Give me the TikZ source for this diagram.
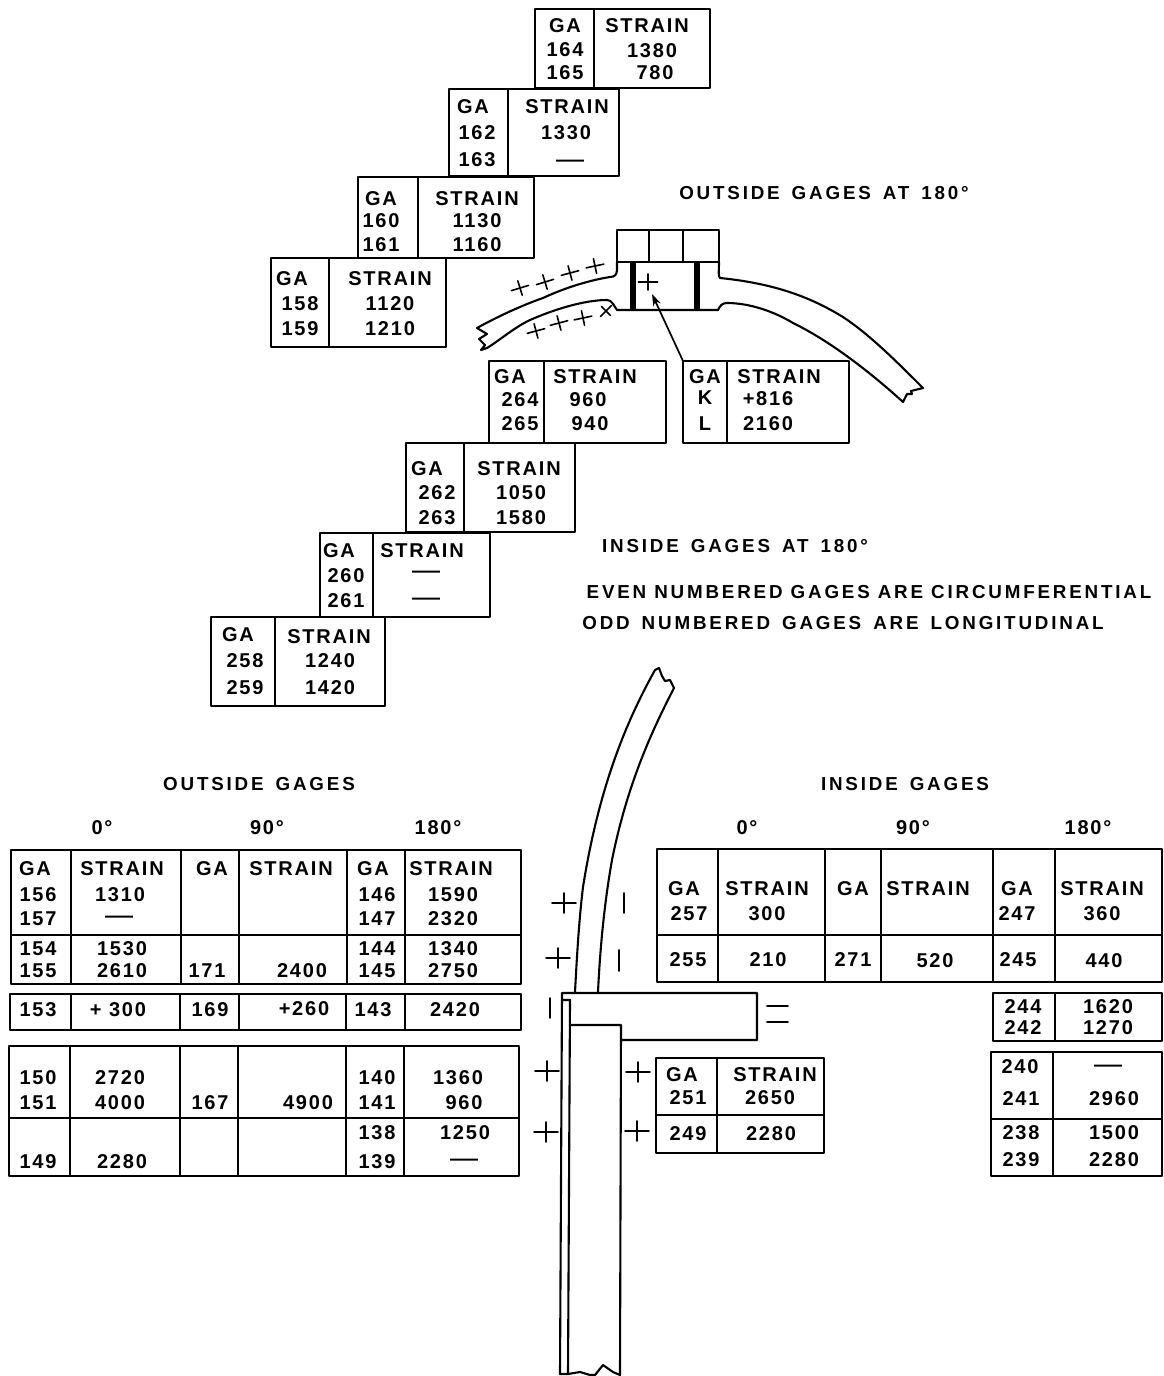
\documentclass[tikz,border=0pt]{standalone}
\usepackage{fontspec}
\usepackage{graphicx}
\setmainfont[LetterSpace=9,BoldFont={Liberation Sans Bold}]{Liberation Sans}
\newfontfamily\hdfont[LetterSpace=15,BoldFont={Liberation Sans Bold}]{Liberation Sans}
\usetikzlibrary{arrows.meta}
\newcounter{tn}
\newcommand\hdwide{\spaceskip 6pt\relax}
\newcommand\hdmid{\spaceskip 4pt\relax}
\tikzset{
  rule/.style={line width=0.85pt,black,line cap=round,line join=round},
  shell/.style={line width=1.05pt,black,line cap=round,line join=round},
  gagemk/.style={line width=0.8pt,black,line cap=round},
  lbl/.style={inner sep=0pt,font=\fontsize{10}{12}\selectfont\bfseries,text=black},
  hdr/.style={inner sep=0pt,font=\fontsize{9.4}{12}\hdfont\bfseries\hdwide,text=black}
}
\newcommand\tx[3]{\stepcounter{tn}\node[lbl] (t\arabic{tn}) at (#1,#2) {#3};}
\newcommand\ds[2]{\stepcounter{tn}\node[lbl] (t\arabic{tn}) at (#1,#2+3) {\scalebox{1.4}[1]{—}};}
\newcommand\hd[3]{\stepcounter{tn}\node[hdr] (t\arabic{tn}) at (#1,#2) {#3};}
\newcommand\bx[4]{\draw[rule] (#1,#2) rectangle (#3,#4);}
\newcommand\vl[3]{\draw[rule] (#1,#2) -- (#1,#3);}
\newcommand\hl[3]{\draw[rule] (#1,#3) -- (#2,#3);}
\newcommand\pl[4][9]{\draw[gagemk,shift={(#2,#3)},rotate=#4] (-#1*1.2,0) -- (#1*1.2,0) (0,-#1) -- (0,#1);}
\begin{document}
\begin{tikzpicture}[x=0.5pt,y=-0.5pt]
\useasboundingbox (0,0) rectangle (1163,1376);
\fill[white] (0,0) rectangle (1163,1376);
% stepped tables, outside
\bx{535}{9}{710}{88}\vl{594}{9}{88}
\tx{565}{26}{GA}\tx{647}{26}{STRAIN}\tx{565}{50}{164}\tx{565}{73}{165}\tx{652}{51}{1380}\tx{655}{73}{780}
\bx{449}{89}{619}{176}\vl{508}{89}{176}
\tx{473}{107}{GA}\tx{567}{107}{STRAIN}\tx{477}{133}{162}\tx{477}{160}{163}\tx{566}{133}{1330}\ds{570}{160}
\bx{358}{177}{534}{258}\vl{418}{177}{258}
\tx{381}{199}{GA}\tx{477}{199}{STRAIN}\tx{381}{221}{160}\tx{381}{245}{161}\tx{477}{221}{1130}\tx{477}{245}{1160}
\bx{271}{258}{446}{347}\vl{329}{258}{347}
\tx{292}{279}{GA}\tx{390}{279}{STRAIN}\tx{300}{304}{158}\tx{300}{329}{159}\tx{390}{304}{1120}\tx{390}{329}{1210}
% stepped tables, inside
\bx{489}{361}{666}{443}\vl{544}{361}{443}
\tx{510}{377}{GA}\tx{595}{377}{STRAIN}\tx{520}{400}{264}\tx{520}{424}{265}\tx{588}{400}{960}\tx{590}{424}{940}
\bx{683}{361}{849}{443}\vl{727}{361}{443}
\tx{705}{377}{GA}\tx{779}{377}{STRAIN}\tx{705}{398}{K}\tx{705}{424}{L}\tx{768}{399}{+816}\tx{768}{424}{2160}
\bx{406}{443}{575}{532}\vl{464}{443}{532}
\tx{427}{469}{GA}\tx{519}{469}{STRAIN}\tx{437}{493}{262}\tx{437}{518}{263}\tx{521}{493}{1050}\tx{521}{518}{1580}
\bx{320}{533}{490}{617}\vl{373}{533}{617}
\tx{339}{551}{GA}\tx{422}{551}{STRAIN}\tx{346}{576}{260}\tx{346}{601}{261}\ds{426}{571}\ds{426}{598}
\bx{211}{617}{385}{706}\vl{275}{617}{706}
\tx{238}{635}{GA}\tx{329}{637}{STRAIN}\tx{245}{661}{258}\tx{245}{688}{259}\tx{330}{661}{1240}\tx{330}{688}{1420}
% top figure
\draw[shell] (617,230) rectangle (719,262);
\draw[shell] (649,230) -- (649,262) (683,230) -- (683,262);
\draw[shell] (617,262) -- (617,270) .. controls (617,275) and (614,277) .. (610,277)
  .. controls (585,281) and (560,290) .. (543,298) .. controls (520,306) and (495,318) .. (477,328)
  -- (487,334) -- (479,339) -- (485,345) -- (481,350) -- (487,348)
  .. controls (500,340) and (515,327) .. (530,320) .. controls (555,309) and (585,300) .. (607,300)
  .. controls (612,300) and (614,306) .. (617,310) -- (718,310)
  .. controls (720,306) and (722,303) .. (727,303)
  .. controls (750,303) and (775,312) .. (793,323) .. controls (830,341) and (870,372) .. (903,402)
  -- (907,394) -- (912,394) -- (911,391) -- (923,388)
  .. controls (895,360) and (870,335) .. (843,317) .. controls (815,300) and (780,284) .. (720,278)
  .. controls (718,276) and (719,272) .. (719,262);
\draw[line width=3pt] (633,262) -- (633,310) (697,262) -- (697,310);
\pl[8]{648}{282}{0}
\pl[7.5]{520}{288}{17}\pl[7.5]{545}{282}{17}\pl[7.5]{570}{273}{15}\pl[7.5]{595}{266}{12}
\pl[7.5]{536}{331}{15}\pl[7.5]{559}{323}{15}\pl[7.5]{583}{318}{12}\pl[6.5]{606}{311}{45}
\coordinate (klcorner) at (683,361);
\coordinate (klgage) at (652,294);
\draw[rule,-{Stealth[length=6pt,width=4pt]}] (klcorner) -- (klgage);
% headings
\hd{824}{193}{OUTSIDE GAGES AT 180°}
\hd{735}{546}{INSIDE GAGES AT 180°}
\hd{869}{592}{\hdmid EVEN NUMBERED GAGES ARE CIRCUMFERENTIAL}
\hd{843}{623}{ODD NUMBERED GAGES ARE LONGITUDINAL}
\hd{259}{784}{OUTSIDE GAGES}\hd{905}{784}{INSIDE GAGES}
\tx{102}{828}{0°}\tx{267}{828}{90°}\tx{438}{828}{180°}
\tx{747}{828}{0°}\tx{913}{828}{90°}\tx{1088}{828}{180°}
% left table
\bx{11}{850}{521}{984}\hl{11}{521}{935}
\foreach \xx in {71,181,239,347,405}{\vl{\xx}{850}{984}}
\tx{35}{869}{GA}\tx{122}{869}{STRAIN}\tx{212}{869}{GA}\tx{291}{869}{STRAIN}\tx{373}{869}{GA}\tx{451}{869}{STRAIN}
\tx{38}{895}{156}\tx{120}{895}{1310}\tx{377}{895}{146}\tx{453}{895}{1590}
\tx{38}{919}{157}\ds{119}{916}\tx{377}{919}{147}\tx{453}{919}{2320}
\tx{38}{949}{154}\tx{122}{949}{1530}\tx{377}{949}{144}\tx{453}{949}{1340}
\tx{38}{971}{155}\tx{122}{971}{2610}\tx{207}{971}{171}\tx{302}{971}{2400}\tx{377}{971}{145}\tx{453}{971}{2750}
\bx{10}{994}{521}{1030}
\foreach \xx in {71,180,239,346,405}{\vl{\xx}{994}{1030}}
\tx{38}{1010}{153}\tx{118}{1010}{+ 300}\tx{210}{1010}{169}\tx{304}{1009}{+260}\tx{373}{1010}{143}\tx{455}{1010}{2420}
\bx{9}{1046}{519}{1176}\hl{9}{519}{1118}
\foreach \xx in {70,180,238,346,404}{\vl{\xx}{1046}{1176}}
\tx{38}{1078}{150}\tx{120}{1078}{2720}\tx{377}{1078}{140}\tx{458}{1078}{1360}
\tx{38}{1103}{151}\tx{120}{1103}{4000}\tx{210}{1103}{167}\tx{308}{1103}{4900}\tx{377}{1103}{141}\tx{464}{1103}{960}
\tx{377}{1133}{138}\tx{465}{1133}{1250}
\tx{38}{1162}{149}\tx{122}{1162}{2280}\tx{377}{1162}{139}\ds{464}{1159}
% right table
\bx{657}{849}{1162}{982}\hl{657}{1162}{935}
\foreach \xx in {718,825,881,993,1055}{\vl{\xx}{849}{982}}
\tx{684}{889}{GA}\tx{767}{889}{STRAIN}\tx{853}{889}{GA}\tx{928}{889}{STRAIN}\tx{1017}{889}{GA}\tx{1102}{889}{STRAIN}
\tx{689}{914}{257}\tx{767}{914}{300}\tx{1017}{914}{247}\tx{1102}{914}{360}
\tx{688}{960}{255}\tx{768}{960}{210}\tx{853}{960}{271}\tx{935}{961}{520}\tx{1018}{960}{245}\tx{1104}{961}{440}
\bx{993}{993}{1162}{1041}\vl{1055}{993}{1041}
\tx{1023}{1007}{244}\tx{1108}{1007}{1620}\tx{1023}{1028}{242}\tx{1108}{1028}{1270}
\bx{991}{1052}{1162}{1176}\vl{1053}{1052}{1176}\hl{991}{1162}{1119}
\tx{1020}{1067}{240}\ds{1108}{1065}\tx{1021}{1099}{241}\tx{1114}{1099}{2960}
\tx{1021}{1133}{238}\tx{1114}{1133}{1500}\tx{1021}{1160}{239}\tx{1114}{1160}{2280}
% centre table
\bx{656}{1058}{824}{1153}\vl{717}{1058}{1153}\hl{656}{824}{1115}
\tx{682}{1075}{GA}\tx{775}{1075}{STRAIN}\tx{688}{1098}{251}\tx{770}{1098}{2650}\tx{688}{1134}{249}\tx{771}{1134}{2280}
% lower section
\draw[shell] (655,670) -- (659,668) -- (662,676) -- (665,681) -- (670,680) -- (674,688)
  .. controls (655,725) and (628,780) .. (612,860) .. controls (604,905) and (600,950) .. (598,992);
\draw[shell] (655,670) .. controls (630,715) and (600,780) .. (583,887) .. controls (579,920) and (577,955) .. (575,992);
\draw[shell] (560,1374) -- (562,993) -- (757,993) -- (757,1040) -- (621,1040);
\draw[shell] (568,1374) -- (570,1000) -- (563,1000);
\draw[shell] (570,1025) -- (621,1025) -- (620,1375);
\draw[shell] (560,1374) -- (568,1374) -- (580,1372) -- (590,1375) -- (595,1375) -- (603,1365) -- (613,1372) -- (620,1375);
\draw[gagemk] (767,1006) -- (788,1006) (767,1022) -- (788,1022);
\draw[gagemk] (624,893) -- (624,913) (619,950) -- (619,971) (550,998) -- (550,1018);
\pl[10]{564}{903}{0}\pl[10]{558}{958}{0}\pl[10]{547}{1071}{0}\pl[10]{546}{1132}{0}\pl[10]{638}{1072}{0}\pl[10]{637}{1131}{0}
\end{tikzpicture}
\end{document}
